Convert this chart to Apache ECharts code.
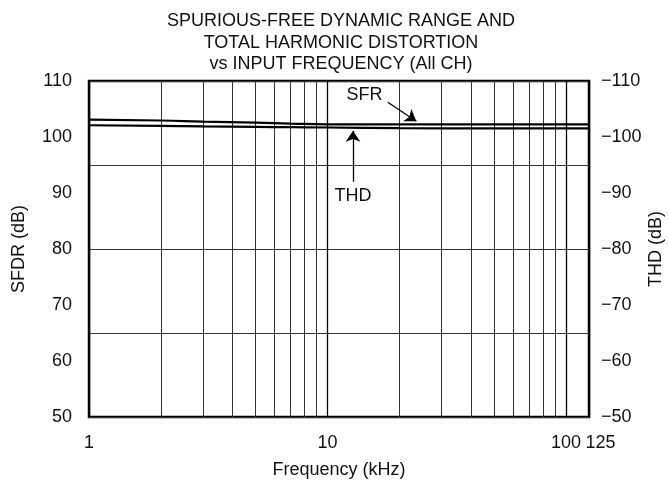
<!DOCTYPE html>
<html>
<head>
<meta charset="utf-8">
<script src="https://cdn.jsdelivr.net/npm/echarts@6/dist/echarts.min.js"></script>
<style>
  html, body { margin: 0; padding: 0; background: #fff; }
  #chart { width: 668px; height: 483px; }
</style>
</head>
<body>
<div id="chart"></div>
<script>
// 频率 (kHz) 和两条曲线
var sfdrFreq = [1, 2, 3, 5, 7, 10, 20, 50, 100, 125];
var sfdrDb = [103.1, 102.95, 102.75, 102.55, 102.4, 102.27, 102.25, 102.25, 102.25, 102.25];
var thdFreq = [1, 2, 3, 5, 7, 10, 20, 50, 100, 125];
var thdDb = [-102.1, -102.0, -101.9, -101.8, -101.75, -101.7, -101.58, -101.55, -101.55, -101.55];

// 对数网格的次刻度线
var minorFreq = [2, 3, 4, 5, 6, 7, 8, 9, 20, 30, 40, 50, 60, 70, 80, 90];

var font = "'Liberation Sans', Arial, sans-serif";
var ink = '#111';
var fs = 18;

function pairs(xs, ys) {
  return xs.map(function (x, i) { return [x, ys[i]]; });
}

var myChart = echarts.init(document.getElementById('chart'));

var option = {
  backgroundColor: '#fff',
  animation: false,
  textStyle: { fontFamily: font, color: ink },
  title: {
    text: 'SPURIOUS-FREE DYNAMIC RANGE AND\nTOTAL HARMONIC DISTORTION\nvs INPUT FREQUENCY (All CH)',
    left: 336,
    textAlign: 'center',
    top: 5,
    textStyle: { fontFamily: font, fontSize: fs, fontWeight: 'normal', color: ink, lineHeight: 21.7 }
  },
  grid: {
    left: 89, right: 79, top: 81, bottom: 66,
    outerBoundsMode: 'none',
    containLabel: false,
    show: true, borderColor: '#000', borderWidth: 2.5, backgroundColor: 'transparent'
  },
  xAxis: {
    type: 'log',
    logBase: 10,
    min: 1,
    max: 125,
    name: 'Frequency (kHz)',
    nameLocation: 'middle',
    nameGap: 44,
    nameMoveOverlap: false,
    nameTextStyle: { fontSize: fs, color: ink },
    axisLine: { show: false },
    axisTick: { show: false },
    axisLabel: {
      fontSize: fs, color: ink, margin: 17, showMaxLabel: true, showMinLabel: true,
      formatter: function (v) { return v === 125 ? '{r|125}' : String(v); },
      rich: { r: { fontSize: fs, color: ink, padding: [0, 0, 0, 23] } }
    },
    splitLine: { show: true, lineStyle: { color: '#000', width: 1.3 } }
  },
  yAxis: [
    {
      type: 'value', position: 'left', min: 50, max: 110, interval: 10,
      name: 'SFDR (dB)', nameLocation: 'middle', nameGap: 61, nameRotate: 90,
      nameTextStyle: { fontSize: fs, color: ink },
      axisLine: { show: false }, axisTick: { show: false },
      axisLabel: { fontSize: fs, color: ink, margin: 17 },
      splitLine: { show: false }
    },
    {
      type: 'value', position: 'right', min: -110, max: -50, interval: 10, inverse: true,
      name: 'THD (dB)', nameLocation: 'middle', nameGap: 58, nameRotate: 90,
      nameMoveOverlap: false,
      nameTextStyle: { fontSize: fs, color: ink },
      axisLine: { show: false }, axisTick: { show: false },
      axisLabel: {
        fontSize: fs, color: ink, margin: 12,
        formatter: function (v) { return String(v).replace('-', '\u2212'); }
      },
      splitLine: { show: false }
    },
    {
      // 横向网格线每 15 dB 一条
      type: 'value', position: 'left', min: 50, max: 110, interval: 15,
      axisLine: { show: false }, axisTick: { show: false }, axisLabel: { show: false },
      splitLine: { show: true, lineStyle: { color: '#333', width: 1.1 } }
    }
  ],
  series: [
    {
      name: 'SFDR',
      type: 'line',
      yAxisIndex: 0,
      data: pairs(sfdrFreq, sfdrDb),
      symbol: 'none',
      smooth: true,
      lineStyle: { color: '#000', width: 2.2 },
      z: 5,
      markLine: {
        silent: true,
        symbol: 'none',
        label: { show: false },
        lineStyle: { color: '#333', width: 1, type: 'solid' },
        data: minorFreq.map(function (f) { return { xAxis: f }; }),
        z: 1
      },
      markPoint: {
        silent: true,
        symbol: 'circle',
        symbolSize: 0,
        label: { show: true, fontSize: fs, color: ink, fontFamily: font },
        data: [
          { coord: [14.3, 107.5], label: { formatter: 'SFR' } },
          { coord: [12.8, 89.5], label: { formatter: 'THD' } }
        ]
      }
    },
    {
      name: 'THD',
      type: 'line',
      yAxisIndex: 1,
      data: pairs(thdFreq, thdDb),
      symbol: 'none',
      smooth: true,
      lineStyle: { color: '#000', width: 2.2 },
      z: 5,
      markLine: {
        silent: true,
        symbol: ['none', 'arrow'],
        symbolSize: 11,
        label: { show: false },
        lineStyle: { color: '#000', width: 1.3, type: 'solid' },
        data: [
          [{ coord: [17.9, -106.2] }, { coord: [23.6, -102.8] }],
          [{ coord: [12.8, -92.0] }, { coord: [12.8, -101.1] }]
        ]
      }
    }
  ]
};

myChart.setOption(option);
</script>
</body>
</html>
